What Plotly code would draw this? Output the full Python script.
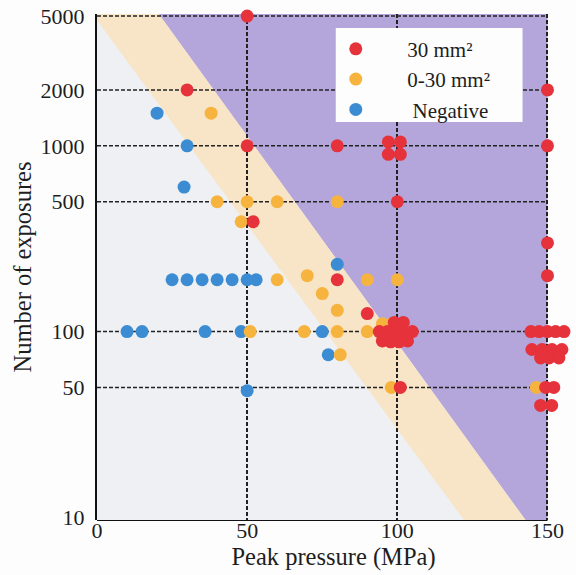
import plotly.graph_objects as go

# ---- data ----
red_x = [50, 30, 50, 80, 97, 101, 97, 101, 100, 150, 150, 52, 150, 150, 80, 90,
         99, 102, 94, 96.7, 99.5, 102.2, 105, 95, 97.8, 100.6, 103.4,
         144.5, 147.2, 150, 152.7, 155.5, 144.8, 148.2, 151.5, 154.8, 147.7, 150.5, 153.8,
         149.4, 152.1, 147.7, 151.4, 101]
red_y = [5000, 2000, 1000, 1000, 1050, 1050, 900, 900, 500, 2000, 1000, 390, 300, 200, 190, 125,
         112, 112, 100, 100, 100, 100, 100, 89, 88, 88, 89,
         100, 100, 100, 100, 100, 80, 80, 80, 80, 72, 72, 72,
         50, 50, 40, 40, 50]

orange_x = [38, 40, 50, 60, 80, 48, 60, 70, 75, 80, 90, 100, 51, 69, 80, 90, 81, 95, 98, 98, 146.3]
orange_y = [1500, 500, 500, 500, 500, 390, 190, 200, 160, 130, 190, 190, 100, 100, 100, 100, 75, 110, 110, 50, 50]

blue_x = [20, 30, 29, 25, 30, 35, 40, 45, 50, 53, 80, 10, 15, 36, 48, 75, 77, 50]
blue_y = [1500, 1000, 600, 190, 190, 190, 190, 190, 190, 190, 230, 100, 100, 100, 100, 100, 75, 48]

series_names = ["30 mm²", "0-30 mm²", "Negative"]

x_ticks = [0, 50, 100, 150]
y_ticks = [10, 50, 100, 500, 1000, 2000, 5000]

# shaded-region boundary lines: x positions at the two y levels in edge_y
edge_y = [5500, 9.5]
orange_edge_x = [-2.9, 122.5]
purple_edge_x = [19.2, 143.0]

# ---- style ----
FONT = "Liberation Serif"
TXT = "#1e1e1e"
RED, ORANGE, BLUE = "#e5323b", "#f6b43f", "#3b8cd3"
X_MAX_VIEW = 157.5  # room for markers drawn just past x=150

fig = go.Figure()
nb = "\u00a0"
for name, xs, ys, col, rank, pad in [
    (series_names[2], blue_x, blue_y, BLUE, 3, 7),
    (series_names[1], orange_x, orange_y, ORANGE, 2, 6),
    (series_names[0], red_x, red_y, RED, 1, 6),
]:
    fig.add_trace(go.Scatter(
        x=xs, y=ys, mode="markers", name=nb * pad + name, legendrank=rank,
        marker=dict(size=13, color=col, line=dict(width=0)),
        cliponaxis=False,
    ))

x_lo, x_hi = min(x_ticks), max(x_ticks)
y_top, y_bot = edge_y

# background regions
fig.add_shape(type="rect", xref="x", yref="y", layer="below", line=dict(width=0),
              x0=x_lo, x1=x_hi, y0=y_bot, y1=y_top, fillcolor="#eef0f3")
fig.add_shape(type="path", xref="x", yref="y", layer="below", line=dict(width=0),
              fillcolor="#b4a6da",
              path=f"M {purple_edge_x[0]},{y_top} L {x_hi},{y_top} L {x_hi},{y_bot} L {purple_edge_x[1]},{y_bot} Z")
fig.add_shape(type="path", xref="x", yref="y", layer="below", line=dict(width=0),
              fillcolor="#f8e4c6",
              path=f"M {orange_edge_x[0]},{y_top} L {purple_edge_x[0]},{y_top} L {purple_edge_x[1]},{y_bot} L {orange_edge_x[1]},{y_bot} Z")
# horizontal dashed gridlines limited to 0..150
for yv in y_ticks[1:]:
    fig.add_shape(type="line", xref="x", yref="y", layer="below",
                  x0=x_lo, x1=x_hi, y0=yv, y1=yv,
                  line=dict(color="#222", width=1.5, dash="4px,2px"))
# bottom axis line 0..150
fig.add_shape(type="line", xref="x", yref="paper", layer="below",
              x0=x_lo, x1=x_hi, y0=0, y1=0,
              line=dict(color="#111", width=2))
# white legend box
fig.add_shape(type="rect", xref="paper", yref="paper", layer="above",
              x0=0.5048, x1=0.8997, y0=0.7866, y1=0.9723,
              fillcolor="#fdfdfd", line=dict(width=0))

fig.update_layout(
    width=576, height=575,
    margin=dict(l=97, r=5.5, t=14, b=55),
    paper_bgcolor="#fdfdfd", plot_bgcolor="#fdfdfd",
    font=dict(family=FONT, size=21, color=TXT),
    legend=dict(x=0.5048, y=0.971, xanchor="left", yanchor="top",
                bgcolor="rgba(0,0,0,0)", font=dict(family=FONT, size=21, color=TXT),
                itemclick=False),
)
fig.update_xaxes(range=[0, X_MAX_VIEW], tickvals=x_ticks, ticks="", showline=False,
                 showgrid=True, gridcolor="#222", gridwidth=1.5, griddash="4px,2px",
                 zeroline=False, automargin=False, ticklabelstandoff=-5,
                 ticklabeloverflow="allow",
                 tickfont=dict(family=FONT, size=22, color=TXT),
                 title=dict(text="Peak pressure (MPa)", standoff=0,
                            font=dict(family=FONT, size=24.5, color=TXT)))
fig.update_yaxes(type="log", range=[0.985, 3.71], tickvals=y_ticks,
                 ticktext=[str(v) for v in y_ticks],
                 ticks="outside", ticklen=6, tickcolor="rgba(0,0,0,0)",
                 showline=True, linecolor="#111", linewidth=2,
                 showgrid=False, zeroline=False, automargin=False,
                 ticklabeloverflow="allow",
                 tickfont=dict(family=FONT, size=22, color=TXT),
                 title=dict(text="Number of exposures", standoff=2,
                            font=dict(family=FONT, size=24.5, color=TXT)))

# remove the browser's default 8px body margin so the figure fills the window
fig.write_html("out.html", config={"displayModeBar": False},
               post_script="document.body.style.margin='0';document.body.style.overflow='hidden';")
